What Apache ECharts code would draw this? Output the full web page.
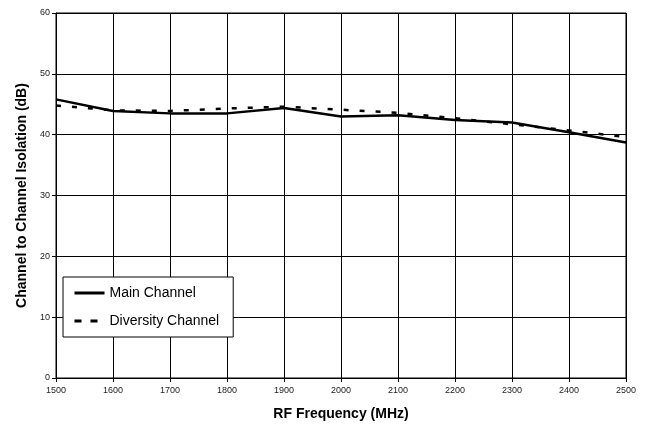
<!DOCTYPE html>
<html><head><meta charset="utf-8">
<script src="https://cdn.jsdelivr.net/npm/echarts@6/dist/echarts.min.js"></script>
<style>html,body{margin:0;padding:0;background:#fff}#c{width:652px;height:429px}</style>
</head><body><div id="c"></div>
<script>
const freqs = [1500,1600,1700,1800,1900,2000,2100,2200,2300,2400,2500];
const mainChannel = [45.8,43.9,43.5,43.5,44.4,43.0,43.2,42.4,42.0,40.4,38.7];
const diversityChannel = [44.8,44.0,43.9,44.3,44.6,44.1,43.6,42.7,41.7,40.7,39.6];
const seriesNames = ['Main Channel','Diversity Channel'];
const xTitle = 'RF Frequency (MHz)';
const yTitle = 'Channel to Channel Isolation (dB)';

const chart = echarts.init(document.getElementById('c'));
const font = 'Liberation Sans, Arial, sans-serif';
chart.setOption({
  animation:false,
  grid:{left:56,right:26,top:13,bottom:51,show:true,borderColor:'#000',borderWidth:1},
  xAxis:{type:'value',min:1500,max:2500,interval:100,
    name:xTitle,nameLocation:'middle',nameGap:29,
    nameTextStyle:{fontFamily:font,fontSize:14,fontWeight:'bold',color:'#000'},
    axisLine:{lineStyle:{color:'#000'}},axisTick:{show:true,length:4,lineStyle:{color:'#000'}},
    axisLabel:{fontFamily:font,fontSize:9,color:'#222',margin:8,formatter:v=>String(v)},
    splitLine:{show:true,lineStyle:{color:'#000',width:1}}},
  yAxis:{type:'value',min:0,max:60,interval:10,
    name:yTitle,nameLocation:'middle',nameGap:27,
    nameTextStyle:{fontFamily:font,fontSize:14,fontWeight:'bold',color:'#000'},
    axisLine:{show:true,lineStyle:{color:'#000'}},axisTick:{show:true,length:4,lineStyle:{color:'#000'}},
    axisLabel:{fontFamily:font,fontSize:9,color:'#222',margin:6},
    splitLine:{show:true,lineStyle:{color:'#000',width:1}}},
  legend:{orient:'vertical',left:63,top:277,itemWidth:30,itemHeight:12,itemGap:14,
    padding:[9,14,9,10],backgroundColor:'#fff',borderColor:'#000',borderWidth:1,
    itemStyle:{opacity:0},
    textStyle:{fontFamily:font,fontSize:14,color:'#000'},
    data:[{name:seriesNames[0],lineStyle:{width:3}},
          {name:seriesNames[1],lineStyle:{width:3,type:[7,9]}}]},
  series:[
    {name:seriesNames[0],type:'line',symbol:'none',data:freqs.map((f,i)=>[f,mainChannel[i]]),
     lineStyle:{color:'#000',width:2.5,type:'solid'},itemStyle:{color:'#000'}},
    {name:seriesNames[1],type:'line',symbol:'none',data:freqs.map((f,i)=>[f,diversityChannel[i]]),
     lineStyle:{color:'#000',width:2.5,type:[5,11]},itemStyle:{color:'#000'}}
  ]
});
</script></body></html>
